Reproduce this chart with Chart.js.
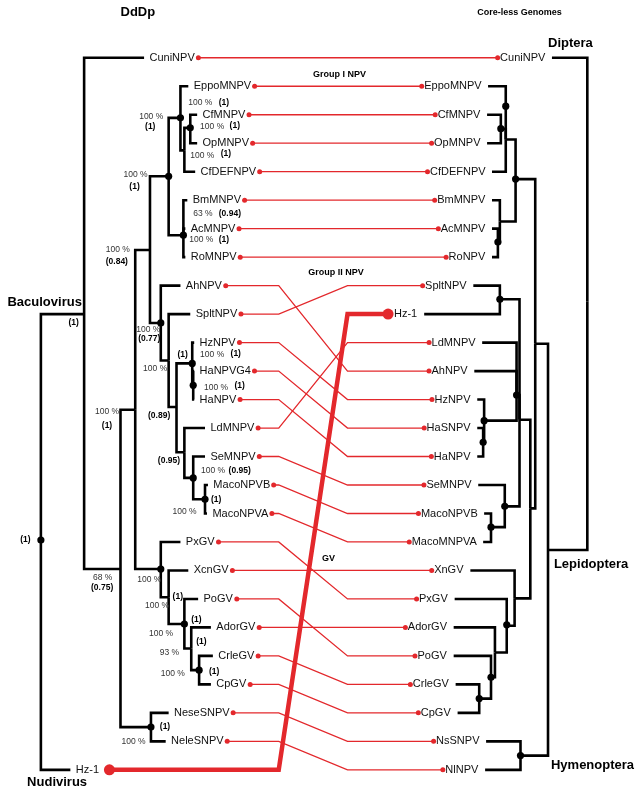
<!DOCTYPE html>
<html>
<head>
<meta charset="utf-8">
<script src="https://cdn.jsdelivr.net/npm/chart.js@4.4.0/dist/chart.umd.min.js"></script>
<style>
  html, body { margin: 0; padding: 0; background: #fff; }
  #wrap { width: 640px; height: 799px; position: relative; }
</style>
</head>
<body>
<div id="wrap"><canvas id="chart1"></canvas></div>
<script>
// leaves, top to bottom (row index = position)
const leftLeaves = ['CuniNPV','EppoMNPV','CfMNPV','OpMNPV','CfDEFNPV','BmMNPV','AcMNPV','RoMNPV','AhNPV','SpltNPV','HzNPV','HaNPVG4','HaNPV','LdMNPV','SeMNPV','MacoNPVB','MacoNPVA','PxGV','XcnGV','PoGV','AdorGV','CrleGV','CpGV','NeseSNPV','NeleSNPV','Hz-1'];
const rightLeaves = ['CuniNPV','EppoMNPV','CfMNPV','OpMNPV','CfDEFNPV','BmMNPV','AcMNPV','RoNPV','SpltNPV','Hz-1','LdMNPV','AhNPV','HzNPV','HaSNPV','HaNPV','SeMNPV','MacoNPVB','MacoMNPVA','XnGV','PxGV','AdorGV','PoGV','CrleGV','CpGV','NsSNPV','NlNPV'];
// right-hand row of each left leaf
const links = [0,1,2,3,4,5,6,7,11,8,12,13,14,10,15,16,17,19,18,21,20,22,23,24,25,9];

// [node, parent, depth, row, dotRow]  ('#n' = leaf n)
const leftTree = [
  ['root', null, 36, 16.93, 16.93],
  ['bac', 'root', 80, 9],
  ['#25', 'root', 66, 25],
  ['#0', 'bac', 141, 0],
  ['n68', 'bac', 117, 17.95],
  ['n100a', 'n68', 132, 12.36],
  ['nn', 'n68', 148, 23.5, 23.5],
  ['#23', 'nn', 166, 23],
  ['#24', 'nn', 163, 24],
  ['n084', 'n100a', 147, 6.75],
  ['gv', 'n100a', 158, 17.95, 17.95],
  ['g1', 'n084', 166, 4.16, 4.16],
  ['ep', 'g1', 178, 2.11, 2.11],
  ['#1', 'ep', 186, 1],
  ['cod', 'ep', 182, 3.25],
  ['co', 'cod', 188, 2.46, 2.46],
  ['#2', 'co', 195, 2],
  ['#3', 'co', 195, 3],
  ['#4', 'cod', 193, 4],
  ['bar', 'g1', 181, 6.23, 6.23],
  ['#5', 'bar', 185, 5],
  ['#6', 'bar', 183, 6],
  ['#7', 'bar', 183, 7],
  ['n077', 'n084', 158, 9.31, 9.31],
  ['#8', 'n077', 178, 8],
  ['n100b', 'n077', 166, 10.63],
  ['#9', 'n100b', 188, 9],
  ['n089', 'n100b', 174, 12.26],
  ['hz', 'n089', 190, 10.73, 10.73],
  ['#10', 'hz', 192, 10],
  ['ha', 'hz', 191, 11.5, 11.5],
  ['#11', 'ha', 192, 11],
  ['#12', 'ha', 192, 12],
  ['n095', 'n089', 182, 13.85],
  ['#13', 'n095', 203, 13],
  ['se', 'n095', 191, 14.75, 14.75],
  ['#14', 'se', 203, 14],
  ['maco', 'se', 203, 15.5, 15.5],
  ['#15', 'maco', 206, 15],
  ['#16', 'maco', 205, 16],
  ['#17', 'gv', 178, 17],
  ['g2', 'gv', 166, 18.94],
  ['#18', 'g2', 186, 18],
  ['g3', 'g2', 182, 19.88, 19.88],
  ['#19', 'g3', 196, 19],
  ['g4', 'g3', 189, 20.74],
  ['#20', 'g4', 209, 20],
  ['g5', 'g4', 197, 21.5, 21.5],
  ['#21', 'g5', 211, 21],
  ['#22', 'g5', 209, 22]
];

const rightTree = [
  ['root', null, 592, 8.55],
  ['#0', 'root', 556, 0],
  ['lh', 'root', 552, 17.28],
  ['lep', 'lh', 539, 10.04],
  ['hym', 'lh', 524, 24.5, 24.5],
  ['#24', 'hym', 489, 24],
  ['#25', 'hym', 488, 25],
  ['g1', 'lep', 519, 4.26, 4.26],
  ['ep', 'g1', 509, 2.87, 1.7],
  ['#1', 'ep', 491, 1],
  ['co', 'ep', 504, 2.49, 2.49],
  ['#2', 'co', 490, 2],
  ['#3', 'co', 490, 3],
  ['#4', 'ep', 495, 4],
  ['bar', 'g1', 503, 5.75],
  ['#5', 'bar', 495, 5],
  ['ar', 'bar', 501, 6.47, 6.47],
  ['#6', 'ar', 495, 6],
  ['#7', 'ar', 495, 7],
  ['l2', 'lep', 534, 15.82],
  ['l3', 'l2', 523, 12.71],
  ['sh', 'l3', 503, 8.48, 8.48],
  ['#8', 'sh', 476, 8],
  ['#9', 'sh', 426, 9],
  ['la', 'l3', 520, 11.84, 11.84],
  ['#10', 'la', 485, 10],
  ['#11', 'la', 477, 11],
  ['hh', 'la', 487, 12.74, 12.74],
  ['#12', 'hh', 480, 12],
  ['hs', 'hh', 486, 13.5, 13.5],
  ['#13', 'hs', 480, 13],
  ['#14', 'hs', 480, 14],
  ['sm', 'l3', 508, 15.75, 15.75],
  ['#15', 'sm', 481, 15],
  ['mr', 'sm', 494, 16.48, 16.48],
  ['#16', 'mr', 487, 16],
  ['#17', 'mr', 486, 17],
  ['gvr', 'l2', 518, 18.98],
  ['#18', 'gvr', 473, 18],
  ['g2', 'gvr', 510, 19.94, 19.91],
  ['#19', 'g2', 457, 19],
  ['g3', 'g2', 498, 20.88],
  ['#20', 'g3', 456, 20],
  ['g4', 'g3', 494, 21.75, 21.75],
  ['#21', 'g4', 456, 21],
  ['g5', 'g4', 482, 22.5, 22.5],
  ['#22', 'g5', 458, 22],
  ['#23', 'g5', 460, 23]
];

// node support: [text, x, row, bold]
const support = [
  ['100 %', 186, 1.56], ['(1)', 217, 1.56, 1],
  ['100 %', 136, 2.08], ['(1)', 142, 2.42, 1],
  ['100 %', 198, 2.42], ['(1)', 228, 2.39, 1],
  ['100 %', 188, 3.43], ['(1)', 219, 3.36, 1],
  ['100 %', 120, 4.09], ['(1)', 126, 4.54, 1],
  ['63 %', 191, 5.47], ['(0.94)', 217, 5.47, 1],
  ['100 %', 187, 6.37], ['(1)', 217, 6.37, 1],
  ['100 %', 102, 6.75], ['(0.84)', 102, 7.17, 1],
  ['(1)', 64, 9.31, 1],
  ['100 %', 133, 9.56], ['(0.77)', 135, 9.87, 1],
  ['(1)', 175, 10.42, 1], ['100 %', 198, 10.42], ['(1)', 229, 10.39, 1],
  ['100 %', 140, 10.91],
  ['100 %', 202, 11.57], ['(1)', 233, 11.5, 1],
  ['100 %', 91, 12.43], ['(1)', 98, 12.92, 1],
  ['(0.89)', 145, 12.57, 1],
  ['(0.95)', 155, 14.13, 1],
  ['100 %', 199, 14.51], ['(0.95)', 227, 14.51, 1],
  ['(1)', 209, 15.51, 1], ['100 %', 170, 15.93],
  ['(1)', 15, 16.93, 1],
  ['68 %', 89, 18.25], ['(0.75)', 87, 18.59, 1],
  ['100 %', 134, 18.32],
  ['(1)', 170, 18.91, 1], ['100 %', 142, 19.25],
  ['(1)', 189, 19.74, 1], ['100 %', 146, 20.22],
  ['(1)', 194, 20.5, 1], ['93 %', 157, 20.88],
  ['(1)', 207, 21.54, 1], ['100 %', 158, 21.61],
  ['(1)', 157, 23.48, 1], ['100 %', 118, 24.0]
];

// headings: [text, x, row, size]
const headings = [
  ['DdDp', 117, -1.59, 13],
  ['Core-less Genomes', 480, -1.59, 9],
  ['Diptera', 552, -0.52, 13],
  ['Lepidoptera', 558, 17.8, 13],
  ['Hymenoptera', 555, 24.86, 13],
  ['Baculovirus', 2, 8.59, 13],
  ['Nudivirus', 22, 25.45, 13],
  ['Group I NPV', 313, 0.59, 9],
  ['Group II NPV', 308, 7.55, 9],
  ['GV', 322, 17.59, 9]
];

const FONT = '"Liberation Sans", Arial, sans-serif';
const RED = '#e3282c';
const BEND_L = 278, BEND_R = 348;
const NUDI = 'Hz-1';

const mctx = document.createElement('canvas').getContext('2d');
mctx.font = '11px ' + FONT;
const tipOf = (tree, n) => tree.find(d => d[0] === '#' + n)[2];

const leftText = leftLeaves.map((name, i) => {
  const x0 = tipOf(leftTree, i) + 5.5;
  const w = mctx.measureText(name).width;
  return { x: x0, dot: x0 + w + (name === NUDI ? 11 : 4.5) };
});
const rightText = rightLeaves.map((name, i) => {
  const x1 = tipOf(rightTree, i) - 7.5;
  const w = mctx.measureText(name).width;
  return { x: x1 - w, dot: x1 - w - (name === NUDI ? 6 : 2.5) };
});

function treeSets(tree) {
  const byId = {};
  tree.forEach(n => byId[n[0]] = n);
  const sets = [];
  tree.forEach(n => {
    if (!n[1]) return;
    const p = byId[n[1]];
    sets.push({
      data: [{x: p[2], y: p[3]}, {x: p[2], y: n[3]}, {x: n[2], y: n[3]}],
      showLine: true, borderColor: '#000', borderWidth: 2.6,
      borderJoinStyle: 'miter', pointRadius: 0, order: 2
    });
  });
  return sets;
}

const datasets = [];
leftLeaves.forEach((name, i) => {
  const j = links[i];
  const thick = name === NUDI;
  datasets.push({
    data: [{x: leftText[i].dot, y: i}, {x: BEND_L, y: i}, {x: BEND_R, y: j}, {x: rightText[j].dot, y: j}],
    showLine: true, borderColor: RED, borderWidth: thick ? 4.5 : 1.3,
    borderJoinStyle: 'miter', pointRadius: 0, order: 3
  });
});
datasets.push(...treeSets(leftTree), ...treeSets(rightTree));

const nodeDots = leftTree.concat(rightTree).filter(n => n[4] !== undefined)
  .map(n => ({x: n[2], y: n[4]}));
datasets.push({ data: nodeDots, pointRadius: 3.6, pointBackgroundColor: '#000', pointBorderWidth: 0, order: 1 });

const small = [], big = [];
leftLeaves.forEach((name, i) => (name === NUDI ? big : small).push({x: leftText[i].dot, y: i}));
rightLeaves.forEach((name, i) => (name === NUDI ? big : small).push({x: rightText[i].dot, y: i}));
datasets.push({ data: small, pointRadius: 2.5, pointBackgroundColor: RED, pointBorderWidth: 0, order: 0 });
datasets.push({ data: big, pointRadius: 5.5, pointBackgroundColor: RED, pointBorderWidth: 0, order: 0 });

const labels = {
  id: 'labels',
  afterDatasetsDraw(chart) {
    const c = chart.ctx, xs = chart.scales.x, ys = chart.scales.y;
    c.save();
    c.textBaseline = 'middle';
    c.textAlign = 'left';
    c.fillStyle = '#111';
    c.font = '11px ' + FONT;
    leftLeaves.forEach((name, i) => c.fillText(name, xs.getPixelForValue(leftText[i].x), ys.getPixelForValue(i)));
    rightLeaves.forEach((name, i) => c.fillText(name, xs.getPixelForValue(rightText[i].x), ys.getPixelForValue(i)));
    support.forEach(s => {
      c.font = (s[3] ? 'bold ' : '') + '8.5px ' + FONT;
      c.fillStyle = s[3] ? '#000' : '#333';
      c.fillText(s[0], xs.getPixelForValue(s[1]), ys.getPixelForValue(s[2]));
    });
    c.fillStyle = '#000';
    headings.forEach(h => {
      c.font = 'bold ' + h[3] + 'px ' + FONT;
      c.fillText(h[0], xs.getPixelForValue(h[1]), ys.getPixelForValue(h[2]));
    });
    c.restore();
  }
};

const ROW_PX = 28.88, TOP_PX = 53;
new Chart(document.getElementById('chart1'), {
  type: 'scatter',
  data: { datasets },
  plugins: [labels],
  options: {
    responsive: true,
    maintainAspectRatio: false,
    animation: false,
    layout: { padding: 0 },
    plugins: { legend: { display: false }, tooltip: { enabled: false } },
    events: [],
    scales: {
      x: { type: 'linear', min: 0, max: 640, display: false },
      y: { type: 'linear', reverse: true, min: -TOP_PX / ROW_PX, max: (799 - TOP_PX) / ROW_PX, display: false }
    }
  }
});
</script>
</body>
</html>
